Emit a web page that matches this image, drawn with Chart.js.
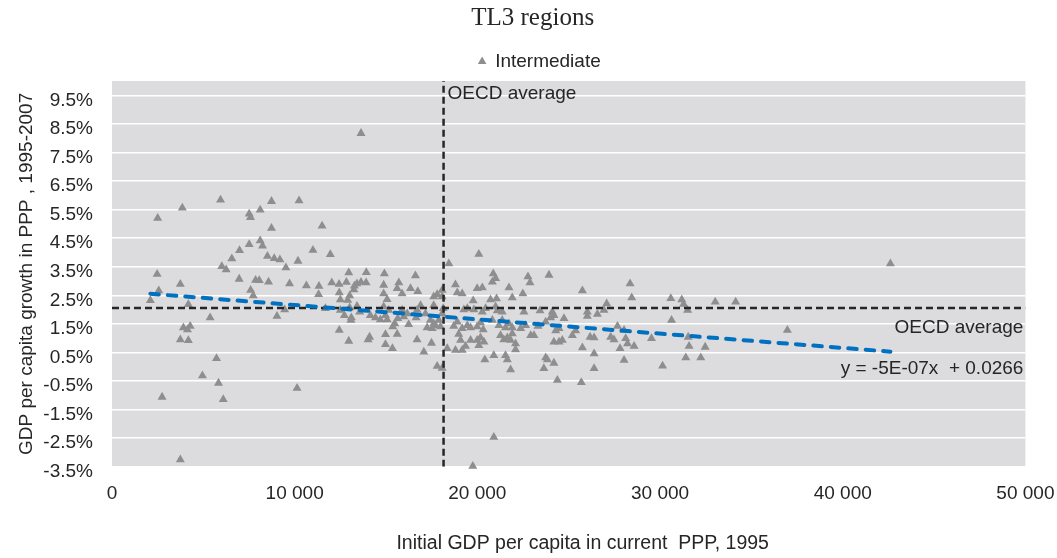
<!DOCTYPE html>
<html>
<head>
<meta charset="utf-8">
<title>TL3 regions</title>
<script src="https://cdn.jsdelivr.net/npm/chart.js@4.4.1/dist/chart.umd.min.js"></script>
<style>
  html, body { margin: 0; padding: 0; background: #ffffff; }
  canvas { display: block; }
</style>
</head>
<body>
<canvas id="chart" width="1057" height="558"></canvas>
<script>
// Initial GDP per capita (current PPP, 1995), one entry per intermediate TL3 region
const gdpPerCapita1995 = [
  2100,2470,2500,2560,2740,3740,3740,3850,3910,4280,
  4130,3740,4180,4180,4950,5370,5720,5830,5940,6010,
  6090,6250,6560,6960,6980,7510,7580,7510,7590,7730,
  7860,8060,8110,8110,8240,8510,8570,8730,8730,8880,
  9190,9030,9450,9520,9720,10130,10180,10240,10640,11000,
  11500,11950,11330,11310,12030,12430,12830,12960,13630,13920,
  14910,16610,13270,13410,13630,13910,13240,14870,14870,15700,
  15610,15880,16340,16740,17800,18070,17610,15060,12440,12500,
  13010,12900,13010,11680,12500,12720,13100,13080,13560,14140,
  14420,14690,14970,15150,14870,15060,15370,15480,15640,16160,
  16240,16650,16700,16890,17430,17530,17610,17890,17980,17250,
  12440,12960,14100,14020,14970,14970,15350,15610,16700,17070,
  17490,18350,17800,18070,15880,17160,18070,13410,15970,18070,
  17610,17710,18440,20080,20870,20820,21000,22770,22880,23920,
  18800,18900,19170,19990,20270,21730,21910,22490,25750,19770,
  20720,21050,18130,19260,19450,19810,20270,20450,21000,21090,
  21360,22550,23430,24100,24190,26020,18710,18900,19170,19450,
  19630,19990,20170,20320,20820,21180,21360,21540,21730,21910,
  22370,22640,23320,23740,24010,24290,24470,24740,25200,25380,
  26020,26170,26390,18980,19080,18800,19170,19350,19630,19990,
  20170,20080,20360,21270,21450,21640,21820,21910,22090,22090,
  22920,23100,24190,24470,24650,25750,26390,20410,20900,21540,
  21640,21820,23740,23830,23640,24190,26390,24380,25690,20900,
  19750,28360,28450,27080,26930,26570,27670,28030,27300,27480,
  28120,28220,28580,27810,29530,30630,30590,31190,31290,31510,
  33020,34140,31540,31590,31410,32470,32230,28030,30140,36970,
  42610
];

// GDP per capita growth in PPP, 1995-2007 (% per year), same order as above
const growth1995to2007 = [
  2.32,3.24,5.20,2.66,-1.06,2.89,-3.25,5.56,1.37,1.42,
  1.30,0.95,0.92,2.18,-0.31,1.72,0.29,-0.57,5.84,3.51,
  -1.14,3.40,3.78,3.07,4.07,5.35,5.23,4.28,2.68,2.49,
  3.03,3.02,5.49,4.41,4.23,3.87,2.97,5.79,4.85,3.79,
  3.75,1.77,2.00,3.47,2.91,-0.75,3.70,5.81,2.84,4.08,
  4.93,3.93,2.82,2.53,2.94,2.89,2.96,3.29,8.17,3.30,
  3.26,3.19,2.83,2.91,2.96,2.94,2.70,2.86,2.56,2.94,
  2.74,2.56,2.74,2.64,2.53,2.68,2.45,2.36,2.59,2.35,
  2.49,2.33,2.07,2.04,1.98,1.80,1.72,1.63,1.92,1.80,
  1.72,1.65,1.80,1.98,2.10,1.65,1.40,1.51,1.69,1.86,
  1.48,1.72,1.98,2.15,1.63,1.34,1.51,1.63,1.40,1.37,
  1.28,0.90,1.04,0.95,1.13,0.78,0.64,1.14,0.95,0.52,
  0.83,0.64,0.02,-0.05,1.98,1.86,1.86,2.12,1.75,2.45,
  2.15,1.45,3.61,3.94,3.26,2.97,3.09,3.15,2.94,3.21,
  2.87,2.59,2.56,2.74,2.77,2.77,2.42,2.56,2.66,2.31,
  2.35,2.38,2.04,2.00,2.04,2.00,1.92,2.04,2.10,1.96,
  1.92,1.92,1.96,1.92,1.80,1.92,1.42,1.57,1.34,1.45,
  1.37,1.40,1.54,1.30,1.63,1.45,1.63,1.37,1.51,1.37,
  1.34,1.45,1.42,1.57,1.72,1.26,1.34,1.69,1.10,1.26,
  1.77,1.04,1.02,1.14,0.93,0.58,0.58,0.72,0.93,0.93,
  1.02,0.75,0.87,1.10,0.95,1.02,0.93,1.16,0.81,0.60,
  1.10,1.10,0.87,0.87,0.93,0.67,0.46,0.25,0.40,0.40,
  0.25,-0.10,0.32,0.25,-0.06,0.13,-0.06,-0.47,-0.55,-2.46,
  -3.48,2.91,2.42,2.21,1.98,1.84,1.42,1.28,1.04,0.95,
  0.99,0.81,0.72,0.64,0.99,1.63,2.39,2.35,2.19,1.98,
  2.27,2.27,1.04,0.72,0.32,0.69,0.32,0.23,0.03,1.28,
  3.61
];

// Axis ticks
const yTickValues = [-3.5,-2.5,-1.5,-0.5,0.5,1.5,2.5,3.5,4.5,5.5,6.5,7.5,8.5,9.5];
const xTickValues = [0,10000,20000,30000,40000,50000];
const yAxisMin = -3.5;
const yAxisMax = 10;
const xAxisMin = 0;
const xAxisMax = 50000;

// OECD reference values
const oecdAverageGdp = 18150;
const oecdAverageGrowth = 2.06;

// Linear trend (growth as a fraction of 1)
const trendSlope = -5e-7;
const trendIntercept = 0.0266;
const trendLabel = 'y = -5E-07x  + 0.0266';

const chartTitle = 'TL3 regions';
const seriesName = 'Intermediate';
const referenceLabel = 'OECD average';
const xAxisTitle = 'Initial GDP per capita in current  PPP, 1995';
const yAxisTitle = 'GDP per capita growth in PPP , 1995-2007';

const SANS = "'Liberation Sans', Arial, Helvetica, sans-serif";
const SERIF = "'Liberation Serif', 'Times New Roman', serif";
const TEXT = '#262626';

const regionPoints = gdpPerCapita1995.map((x, i) => ({ x: x, y: growth1995to2007[i] }));
const gdpMin = Math.min(...gdpPerCapita1995);
const gdpMax = Math.max(...gdpPerCapita1995);
const trendPercent = x => 100 * (trendSlope * x + trendIntercept);

function spacedThousands(v) {
  return String(v).replace(/\B(?=(\d{3})+(?!\d))/g, ' ');
}

// grey plotting area behind the white gridlines
const plotBackground = {
  id: 'plotBackground',
  beforeDraw(chart) {
    const { ctx, chartArea: a } = chart;
    ctx.save();
    ctx.fillStyle = '#dcdcde';
    ctx.fillRect(a.left, a.top, a.right - a.left, a.bottom - a.top);
    ctx.restore();
  }
};

// centre the heading and legend a little right of the canvas middle
const headerPlacement = {
  id: 'headerPlacement',
  afterLayout(chart) {
    const move = (box, dx) => { if (box) { box.left += dx; box.right += dx; } };
    move(chart.titleBlock, 20);
    move(chart.legend, 27);
  }
};

// reference-line captions, trend equation and horizontal axis title
const captions = {
  id: 'captions',
  afterDraw(chart) {
    const { ctx, chartArea: a, scales: { x, y } } = chart;
    ctx.save();
    ctx.font = '19px ' + SANS;
    ctx.fillStyle = TEXT;
    ctx.textBaseline = 'middle';
    ctx.textAlign = 'left';
    ctx.fillText(referenceLabel, x.getPixelForValue(oecdAverageGdp) + 4,
                 y.getPixelForValue(yTickValues[yTickValues.length - 1]) - 2);
    ctx.textAlign = 'right';
    const hy = y.getPixelForValue(oecdAverageGrowth);
    ctx.fillText(referenceLabel, a.right - 2, hy + 20);
    ctx.fillText(trendLabel, a.right - 2, hy + 61);
    ctx.font = '19.5px ' + SANS;
    ctx.textAlign = 'center';
    ctx.fillText(xAxisTitle, (a.left + a.right) / 2 + 14, 544);
    ctx.restore();
  }
};

new Chart(document.getElementById('chart'), {
  type: 'scatter',
  data: {
    datasets: [
      {
        label: seriesName,
        data: regionPoints,
        pointStyle: 'triangle',
        pointRadius: 5.2,
        pointHoverRadius: 5.2,
        backgroundColor: '#8e8e8e',
        borderWidth: 0,
        clip: false,
        order: 3
      },
      {
        label: 'OECD average GDP',
        data: [{ x: oecdAverageGdp, y: yAxisMin }, { x: oecdAverageGdp, y: yAxisMax }],
        showLine: true,
        borderColor: '#262626',
        borderWidth: 2.5,
        borderDash: [7, 4],
        pointRadius: 0,
        order: 2
      },
      {
        label: 'OECD average growth',
        data: [{ x: xAxisMin, y: oecdAverageGrowth }, { x: xAxisMax, y: oecdAverageGrowth }],
        showLine: true,
        borderColor: '#262626',
        borderWidth: 2.5,
        borderDash: [7, 4],
        pointRadius: 0,
        order: 2
      },
      {
        label: 'Linear trend',
        data: [{ x: gdpMin, y: trendPercent(gdpMin) }, { x: gdpMax, y: trendPercent(gdpMax) }],
        showLine: true,
        borderColor: '#0070c0',
        borderWidth: 4,
        borderDash: [8.5, 9],
        borderCapStyle: 'round',
        pointRadius: 0,
        order: 1
      }
    ]
  },
  options: {
    responsive: false,
    animation: false,
    devicePixelRatio: 1,
    events: [],
    layout: { padding: { left: 0, right: 31.6, top: 0, bottom: 0 } },
    plugins: {
      title: {
        display: true,
        text: chartTitle,
        color: TEXT,
        font: { family: SERIF, size: 25, weight: 'normal', lineHeight: 1.2 },
        padding: { top: 3, bottom: 9 }
      },
      legend: {
        display: true,
        position: 'top',
        labels: {
          filter: item => item.datasetIndex === 0,
          usePointStyle: true,
          boxWidth: 7,
          boxHeight: 7,
          padding: 10,
          color: TEXT,
          font: { family: SANS, size: 19 }
        }
      },
      tooltip: { enabled: false }
    },
    scales: {
      x: {
        type: 'linear',
        min: xAxisMin,
        max: xAxisMax,
        afterBuildTicks: s => { s.ticks = xTickValues.map(v => ({ value: v })); },
        afterFit: s => { s.height = 91.2; s.paddingLeft = 0; s.paddingRight = 0; },
        grid: { display: false, drawTicks: false },
        border: { display: false },
        ticks: {
          padding: 16,
          color: TEXT,
          autoSkip: false,
          maxRotation: 0,
          font: { family: SANS, size: 19 },
          callback: v => spacedThousands(v)
        }
      },
      y: {
        type: 'linear',
        min: yAxisMin,
        max: yAxisMax,
        afterBuildTicks: s => { s.ticks = yTickValues.map(v => ({ value: v })); },
        afterFit: s => { s.width = 112; s.paddingTop = 0; s.paddingBottom = 0; },
        grid: { color: '#ffffff', lineWidth: 1.5, drawTicks: false },
        border: { display: false },
        ticks: {
          padding: 19,
          labelOffset: 5,
          color: TEXT,
          autoSkip: false,
          font: { family: SANS, size: 19 },
          callback: v => v.toFixed(1) + '%'
        },
        title: {
          display: true,
          text: yAxisTitle,
          color: TEXT,
          font: { family: SANS, size: 19 },
          padding: { top: 15, bottom: 0 }
        }
      }
    }
  },
  plugins: [plotBackground, headerPlacement, captions]
});
</script>
</body>
</html>
